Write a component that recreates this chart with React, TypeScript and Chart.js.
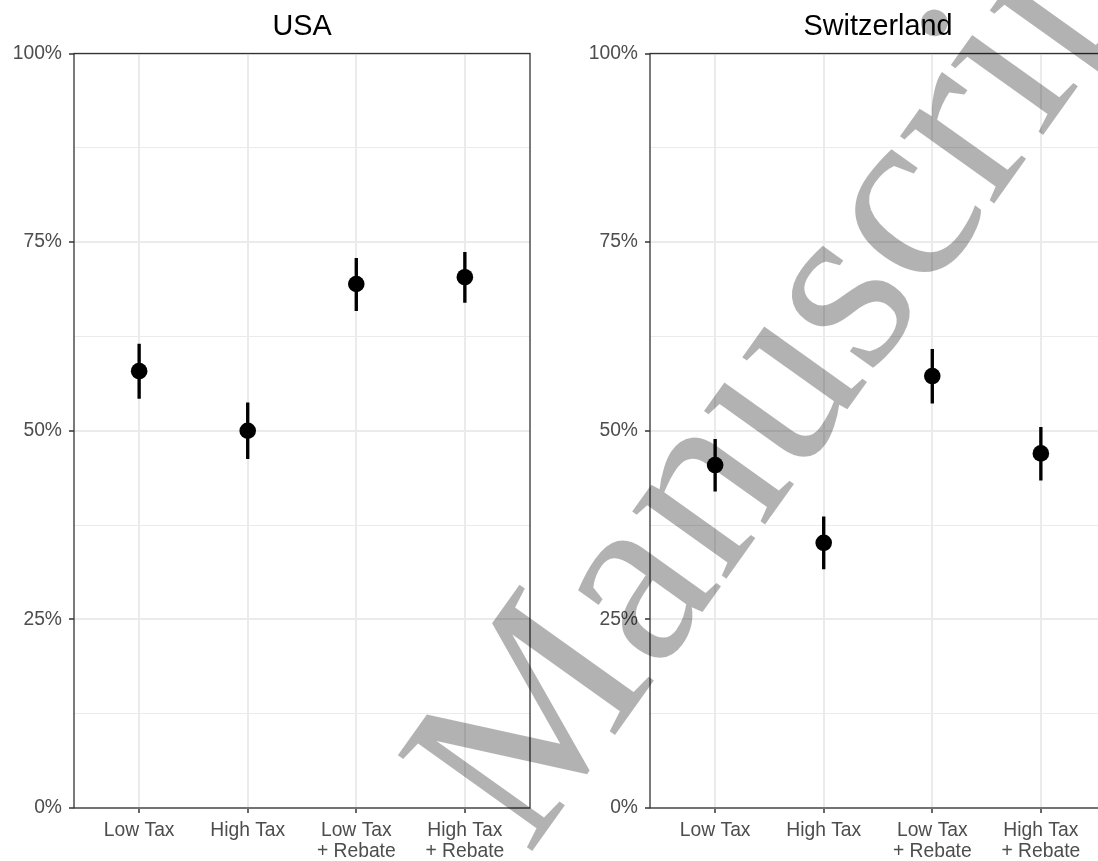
import React, { useEffect, useRef } from 'react';
import { Chart, registerables } from 'chart.js';

Chart.register(...registerables);

// ---- data ----
const categoryLabels: string[][] = [['Low Tax'], ['High Tax'], ['Low Tax', '+ Rebate'], ['High Tax', '+ Rebate']];
const categoryPositions = [1, 2, 3, 4];

const usaMean = [57.9, 50.0, 69.45, 70.35];
const usaLow = [54.3, 46.3, 65.9, 67.0];
const usaHigh = [61.5, 53.7, 72.85, 73.65];

const swissMean = [45.45, 35.15, 57.25, 47.0];
const swissLow = [42.0, 31.7, 53.65, 43.45];
const swissHigh = [48.85, 38.6, 60.8, 50.45];

const yTickValues = [0, 12.5, 25, 37.5, 50, 62.5, 75, 87.5, 100];

// ---- layout constants ----
const W = 560;
const H = 861;
const PLOT_LEFT = 74;
const PLOT_RIGHT = 530;
const PLOT_TOP = 53.5;
const PLOT_BOTTOM = 808;
const FONT = "'Liberation Sans', Arial, Helvetica, sans-serif";

type PanelProps = { title: string; mean: number[]; low: number[]; high: number[] };

function Panel({ title, mean, low, high }: PanelProps) {
  const ref = useRef<HTMLCanvasElement | null>(null);

  useEffect(() => {
    if (!ref.current) return;
    const framePlugin = {
      id: 'frameAndTitle',
      afterDraw(chart: any) {
        const { ctx, chartArea } = chart;
        ctx.save();
        ctx.strokeStyle = '#333333';
        ctx.lineWidth = 1.3;
        ctx.strokeRect(chartArea.left, chartArea.top, chartArea.right - chartArea.left, chartArea.bottom - chartArea.top);
        ctx.fillStyle = '#000000';
        ctx.font = `28.8px ${FONT}`;
        ctx.textAlign = 'center';
        ctx.textBaseline = 'alphabetic';
        ctx.fillText(title, (chartArea.left + chartArea.right) / 2, 35);
        ctx.restore();
      },
    };

    const chart = new Chart(ref.current, {
      type: 'scatter',
      data: {
        datasets: [
          {
            type: 'scatter',
            data: categoryPositions.map((x, i) => ({ x, y: mean[i] })),
            backgroundColor: '#000000',
            borderWidth: 0,
            pointRadius: 8.3,
            order: 0,
          } as any,
          {
            type: 'bar',
            data: categoryPositions.map((x, i) => ({ x, y: [low[i], high[i]] })),
            backgroundColor: '#000000',
            barThickness: 2.7,
            borderWidth: 0,
            order: 1,
          } as any,
        ],
      },
      options: {
        animation: false,
        responsive: false,
        maintainAspectRatio: false,
        devicePixelRatio: 1,
        layout: { padding: { left: 0, right: W - PLOT_RIGHT, top: PLOT_TOP, bottom: 0 } },
        plugins: { legend: { display: false }, tooltip: { enabled: false }, title: { display: false } },
        scales: {
          x: {
            type: 'linear',
            min: 0.4,
            max: 4.6,
            offset: false,
            afterBuildTicks: (s: any) => {
              s.ticks = categoryPositions.map((v) => ({ value: v }));
            },
            afterFit: (s: any) => {
              s.height = H - PLOT_BOTTOM;
            },
            ticks: {
              autoSkip: false,
              maxRotation: 0,
              minRotation: 0,
              padding: 7,
              color: '#4D4D4D',
              font: { family: FONT, size: 19.3, lineHeight: 1.09 },
              callback: (v: any) => categoryLabels[Math.round(Number(v)) - 1],
            },
            grid: {
              offset: false,
              color: '#EBEBEB',
              lineWidth: 2,
              drawTicks: true,
              tickLength: 5,
              tickColor: '#333333',
              tickWidth: 1.5,
            },
            border: { display: false },
          },
          y: {
            type: 'linear',
            min: 0,
            max: 100,
            afterBuildTicks: (s: any) => {
              s.ticks = yTickValues.map((v) => ({ value: v }));
            },
            afterFit: (s: any) => {
              s.width = PLOT_LEFT;
            },
            ticks: {
              autoSkip: false,
              padding: 7,
              color: '#4D4D4D',
              font: { family: FONT, size: 19.3 },
              callback: (v: any) => (Number(v) % 25 === 0 ? `${v}%` : ''),
            },
            grid: {
              color: '#EBEBEB',
              lineWidth: (c: any) => (c.tick && c.tick.value % 25 === 0 ? 2 : 1),
              drawTicks: true,
              tickLength: 5,
              tickColor: (c: any) => (c.tick && c.tick.value % 25 === 0 ? '#333333' : 'rgba(0,0,0,0)'),
              tickWidth: 1.5,
            },
            border: { display: false },
          },
        },
      } as any,
      plugins: [framePlugin],
    });
    return () => chart.destroy();
  }, [title, mean, low, high]);

  return <canvas ref={ref} width={W} height={H} style={{ width: W, height: H, display: 'block' }} />;
}

export default function App() {
  return (
    <div
      style={{
        position: 'fixed',
        left: 0,
        top: 0,
        width: 1098,
        height: 861,
        overflow: 'hidden',
        background: '#ffffff',
      }}
    >
      <div style={{ position: 'absolute', left: 0, top: 0 }}>
        <Panel title="USA" mean={usaMean} low={usaLow} high={usaHigh} />
      </div>
      <div style={{ position: 'absolute', left: 576, top: 0 }}>
        <Panel title="Switzerland" mean={swissMean} low={swissLow} high={swissHigh} />
      </div>
      <svg
        width={1098}
        height={861}
        style={{ position: 'absolute', left: 0, top: 0, pointerEvents: 'none' }}
      >
        <text
          x={528}
          y={857}
          fontFamily="'Liberation Serif', 'Times New Roman', serif"
          fontSize={252}
          fill="#000000"
          fillOpacity={0.3}
          transform="rotate(-54.5 528 857)"
        >
          Manuscript
        </text>
      </svg>
    </div>
  );
}
